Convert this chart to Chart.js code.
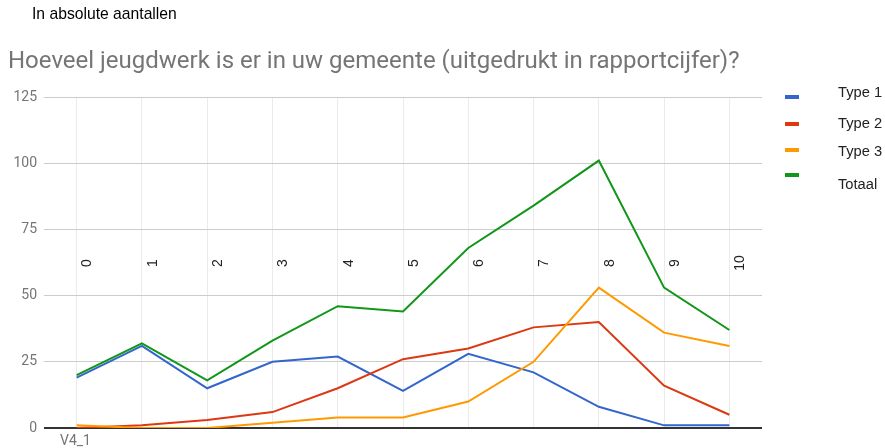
<!DOCTYPE html>
<html>
<head>
<meta charset="utf-8">
<script src="https://cdn.jsdelivr.net/npm/chart.js@4.4.0/dist/chart.umd.min.js"></script>
<style>
  html, body { margin: 0; padding: 0; background: #fff; }
  #wrap { position: relative; width: 885px; height: 448px; overflow: hidden; }
  #chart { position: absolute; left: 0; top: 0; }
  .note { position: absolute; left: 32px; top: 5px; font: 15.7px "Liberation Sans", Arial, sans-serif; color: #000; }
  #legend { position: absolute; left: 785px; top: 0; }
  .lg-swatch { position: absolute; left: 0; width: 14px; height: 4px; }
  .lg-label { position: absolute; left: 53px; height: 20px; line-height: 20px; font: 14.7px "Liberation Sans", Arial, sans-serif; color: #222; white-space: nowrap; }
</style>
</head>
<body>
<div id="wrap">
  <canvas id="chart" width="885" height="448"></canvas>
  <div class="note">In absolute aantallen</div>
  <div id="legend"></div>
</div>
<script>
'use strict';

// ── DATA ─────────────────────────────────────────────────────

const CATEGORIES = ['0', '1', '2', '3', '4', '5', '6', '7', '8', '9', '10'];
const SERIES_NAMES = ['Type 1', 'Type 2', 'Type 3', 'Totaal'];
const TYPE1  = [19, 31, 15, 25, 27, 14, 28, 21, 8, 1, 1];
const TYPE2  = [0, 1, 3, 6, 15, 26, 30, 38, 40, 16, 5];
const TYPE3  = [1, 0, 0, 2, 4, 4, 10, 25, 53, 36, 31];
const TOTAAL = [20, 32, 18, 33, 46, 44, 68, 84, 101, 53, 37];
const Y_TICKS = [0, 25, 50, 75, 100, 125];

const TITLE = 'Hoeveel jeugdwerk is er in uw gemeente (uitgedrukt in rapportcijfer)?';
const X_TITLE = 'V4_1';

const COLORS = ['#3366CC', '#DC3912', '#FF9900', '#109618'];
const SWATCH_Y = [97, 124, 150, 175];
const LABEL_Y  = [94, 125, 153, 186];

// ── PLUGIN: rotated category labels inside the plot ──────────

const categoryLabels = {
  id: 'categoryLabels',
  beforeDatasetsDraw(chart) {
    const { ctx, chartArea, scales: { x } } = chart;
    ctx.save();
    ctx.font = '14px "Liberation Sans", Arial, sans-serif';
    ctx.fillStyle = '#222';
    ctx.textAlign = 'center';
    ctx.textBaseline = 'middle';
    x.getLabels().forEach((lab, i) => {
      ctx.save();
      ctx.translate(x.getPixelForValue(i) + 11, chartArea.top + 166);
      ctx.rotate(-Math.PI / 2);
      ctx.fillText(lab, 0, 0);
      ctx.restore();
    });
    ctx.font = '14px Roboto';
    ctx.fillStyle = '#757575';
    ctx.textAlign = 'left';
    ctx.fillText(X_TITLE, chartArea.left + 16, chartArea.bottom + 13);
    ctx.restore();
  },
};

// ── CHART ────────────────────────────────────────────────────

const seriesData = [TYPE1, TYPE2, TYPE3, TOTAAL];

new Chart(document.getElementById('chart'), {
  type: 'line',
  data: {
    labels: CATEGORIES,
    datasets: seriesData.map((d, i) => ({
      label: SERIES_NAMES[i],
      data: d,
      borderColor: COLORS[i],
      backgroundColor: COLORS[i],
      borderWidth: 2,
      pointRadius: 0,
      tension: 0,
      fill: false,
      order: 3 - i,
    })),
  },
  options: {
    responsive: false,
    animation: false,
    layout: { padding: { left: 8, right: 123, top: 0, bottom: 0 } },
    plugins: {
      legend: { display: false },
      tooltip: { enabled: false },
      title: {
        display: true,
        text: TITLE,
        align: 'start',
        color: '#757575',
        font: { family: 'Roboto', size: 24, weight: 'normal', lineHeight: 1.2 },
        padding: { top: 47.6, bottom: 20.6 },
      },
    },
    scales: {
      x: {
        offset: true,
        ticks: { display: false },
        grid: { color: '#EBEBEB', drawTicks: false, offset: false },
        border: { display: false },
        afterFit: s => { s.height = 20; },
      },
      y: {
        min: 0,
        max: 125,
        afterBuildTicks: s => { s.ticks = Y_TICKS.map(v => ({ value: v })); },
        ticks: {
          color: '#757575',
          font: { family: 'Roboto', size: 14 },
          padding: 7,
        },
        grid: {
          drawTicks: false,
          color: c => (c.tick && c.tick.value === 0 ? '#333333' : '#CCCCCC'),
          lineWidth: c => (c.tick && c.tick.value === 0 ? 2 : 1),
        },
        border: { display: false },
        afterFit: s => { s.width = 36; },
      },
    },
  },
  plugins: [categoryLabels],
});

// ── LEGEND ───────────────────────────────────────────────────

const legend = document.getElementById('legend');
SERIES_NAMES.forEach((name, i) => {
  const sw = document.createElement('div');
  sw.className = 'lg-swatch';
  sw.style.top = (SWATCH_Y[i] - 2) + 'px';
  sw.style.background = COLORS[i];
  const lab = document.createElement('span');
  lab.className = 'lg-label';
  lab.style.top = (LABEL_Y[i] - 10) + 'px';
  lab.textContent = name;
  legend.appendChild(sw);
  legend.appendChild(lab);
});
</script>
</body>
</html>
